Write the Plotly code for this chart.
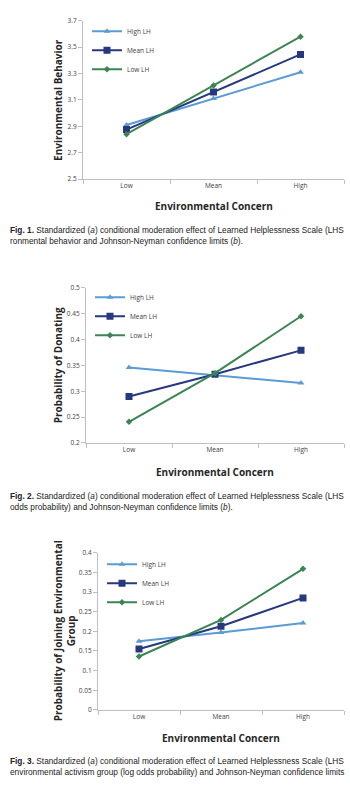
import plotly.graph_objects as go

W, H = 350, 795

categories = ["Low", "Mean", "High"]
series_names = ["High LH", "Mean LH", "Low LH"]

# Fig 1: Environmental Behavior
fig1_high = [2.91, 3.11, 3.31]
fig1_mean = [2.875, 3.16, 3.445]
fig1_low = [2.84, 3.21, 3.58]
fig1_ticks = [2.5, 2.7, 2.9, 3.1, 3.3, 3.5, 3.7]

# Fig 2: Probability of Donating
fig2_high = [0.346, 0.331, 0.316]
fig2_mean = [0.290, 0.333, 0.379]
fig2_low = [0.241, 0.335, 0.445]
fig2_ticks = [0.2, 0.25, 0.3, 0.35, 0.4, 0.45, 0.5]

# Fig 3: Probability of Joining Environmental Group
fig3_high = [0.175, 0.197, 0.221]
fig3_mean = [0.155, 0.213, 0.285]
fig3_low = [0.136, 0.229, 0.359]
fig3_ticks = [0, 0.05, 0.1, 0.15, 0.2, 0.25, 0.3, 0.35, 0.4]

colors = ["#5B9BD5", "#26387F", "#3B8553"]
symbols = ["triangle-up", "square", "diamond"]
msizes = [6, 7, 5]

def px_x(p):
    return p / W

def px_y(p):
    return 1 - p / H

panels = [
    dict(data=[fig1_high, fig1_mean, fig1_low], ticks=fig1_ticks, rng=[2.5, 3.7],
         x0=83, x1=344, ytop=16, ybot=176, title="Environmental Behavior",
         legx=87, legy=12, xtitle_y=203, ytitle_x=58,
         cap=["<b>Fig. 1.</b> Standardized (<i>a</i>) conditional moderation effect of Learned Helplessness Scale (LHS",
              "ronmental behavior and Johnson-Neyman confidence limits (<i>b</i>)."],
         cap_y=[228, 239]),
    dict(data=[fig2_high, fig2_mean, fig2_low], ticks=fig2_ticks, rng=[0.2, 0.5],
         x0=86, x1=344, ytop=286, ybot=443, title="Probability of Donating",
         legx=90, legy=281, xtitle_y=472, ytitle_x=58,
         cap=["<b>Fig. 2.</b> Standardized (<i>a</i>) conditional moderation effect of Learned Helplessness Scale (LHS",
              "odds probability) and Johnson-Neyman confidence limits (<i>b</i>)."],
         cap_y=[497, 508]),
    dict(data=[fig3_high, fig3_mean, fig3_low], ticks=fig3_ticks, rng=[0, 0.4],
         x0=98, x1=344, ytop=554, ybot=713, title="Probability of Joining Environmental<br>Group",
         legx=102, legy=551, xtitle_y=741, ytitle_x=64,
         cap=["<b>Fig. 3.</b> Standardized (<i>a</i>) conditional moderation effect of Learned Helplessness Scale (LHS",
              "environmental activism group (log odds probability) and Johnson-Neyman confidence limits"],
         cap_y=[765, 776]),
]

fig = go.Figure()
annotations = []
layout = {}
tick_font = dict(family="Open Sans, Liberation Sans, sans-serif", size=6.5, color="#404040")
title_font = dict(family="Open Sans, Liberation Sans, sans-serif", size=10, color="#262626")
cap_font = dict(family="Liberation Sans, Arial, sans-serif", size=8.3, color="#222222")

for i, p in enumerate(panels):
    n = i + 1
    xa = "x" if n == 1 else f"x{n}"
    ya = "y" if n == 1 else f"y{n}"
    leg = "legend" if n == 1 else f"legend{n}"
    for s in range(3):
        fig.add_trace(go.Scatter(
            x=categories, y=p["data"][s], name=series_names[s],
            mode="lines+markers", xaxis=xa, yaxis=ya, legend=leg,
            line=dict(color=colors[s], width=2),
            marker=dict(symbol=symbols[s], size=msizes[s], color=colors[s]),
        ))
    layout[f"xaxis{'' if n == 1 else n}"] = dict(
        domain=[px_x(p["x0"]), px_x(p["x1"])], anchor=ya,
        type="category", categoryorder="array", categoryarray=categories,
        range=[-0.5, 2.5], showgrid=False, showline=True, linecolor="#BFBFBF",
        linewidth=1, ticks="outside", tickson="boundaries", ticklen=4,
        tickcolor="#BFBFBF", tickfont=tick_font, zeroline=False, fixedrange=True,
    )
    layout[f"yaxis{'' if n == 1 else n}"] = dict(
        domain=[px_y(p["ybot"]), px_y(p["ytop"])], anchor=xa,
        range=p["rng"], tickvals=p["ticks"], ticktext=[f"{t:g}" for t in p["ticks"]],
        showgrid=False, showline=True, linecolor="#BFBFBF", linewidth=1,
        ticks="outside", ticklen=4, tickcolor="#BFBFBF", tickfont=tick_font,
        zeroline=False, fixedrange=True,
    )
    layout[leg] = dict(
        x=px_x(p["legx"]), y=px_y(p["legy"]), xanchor="left", yanchor="top",
        bgcolor="rgba(0,0,0,0)", font=dict(family="Open Sans, sans-serif", size=6.5, color="#404040"),
        itemwidth=30, tracegroupgap=0,
    )
    annotations.append(dict(
        text="<b>Environmental Concern</b>", x=px_x((p["x0"] + p["x1"]) / 2), y=px_y(p["xtitle_y"]),
        xref="paper", yref="paper", showarrow=False, font=title_font, xanchor="center", yanchor="middle",
    ))
    annotations.append(dict(
        text=f"<b>{p['title']}</b>", x=px_x(p["ytitle_x"]), y=px_y((p["ytop"] + p["ybot"]) / 2),
        xref="paper", yref="paper", showarrow=False, font=title_font, textangle=-90,
        xanchor="center", yanchor="middle",
    ))
    for line, yy in zip(p["cap"], p["cap_y"]):
        annotations.append(dict(
            text=line, x=px_x(8), y=px_y(yy), xref="paper", yref="paper", showarrow=False,
            font=cap_font, xanchor="left", yanchor="middle", align="left",
        ))

fig.update_layout(
    width=W, height=H, margin=dict(l=0, r=0, t=0, b=0),
    paper_bgcolor="white", plot_bgcolor="white", showlegend=True,
    annotations=annotations, **layout,
)

fig.write_html("out.html", config={"displayModeBar": False})
